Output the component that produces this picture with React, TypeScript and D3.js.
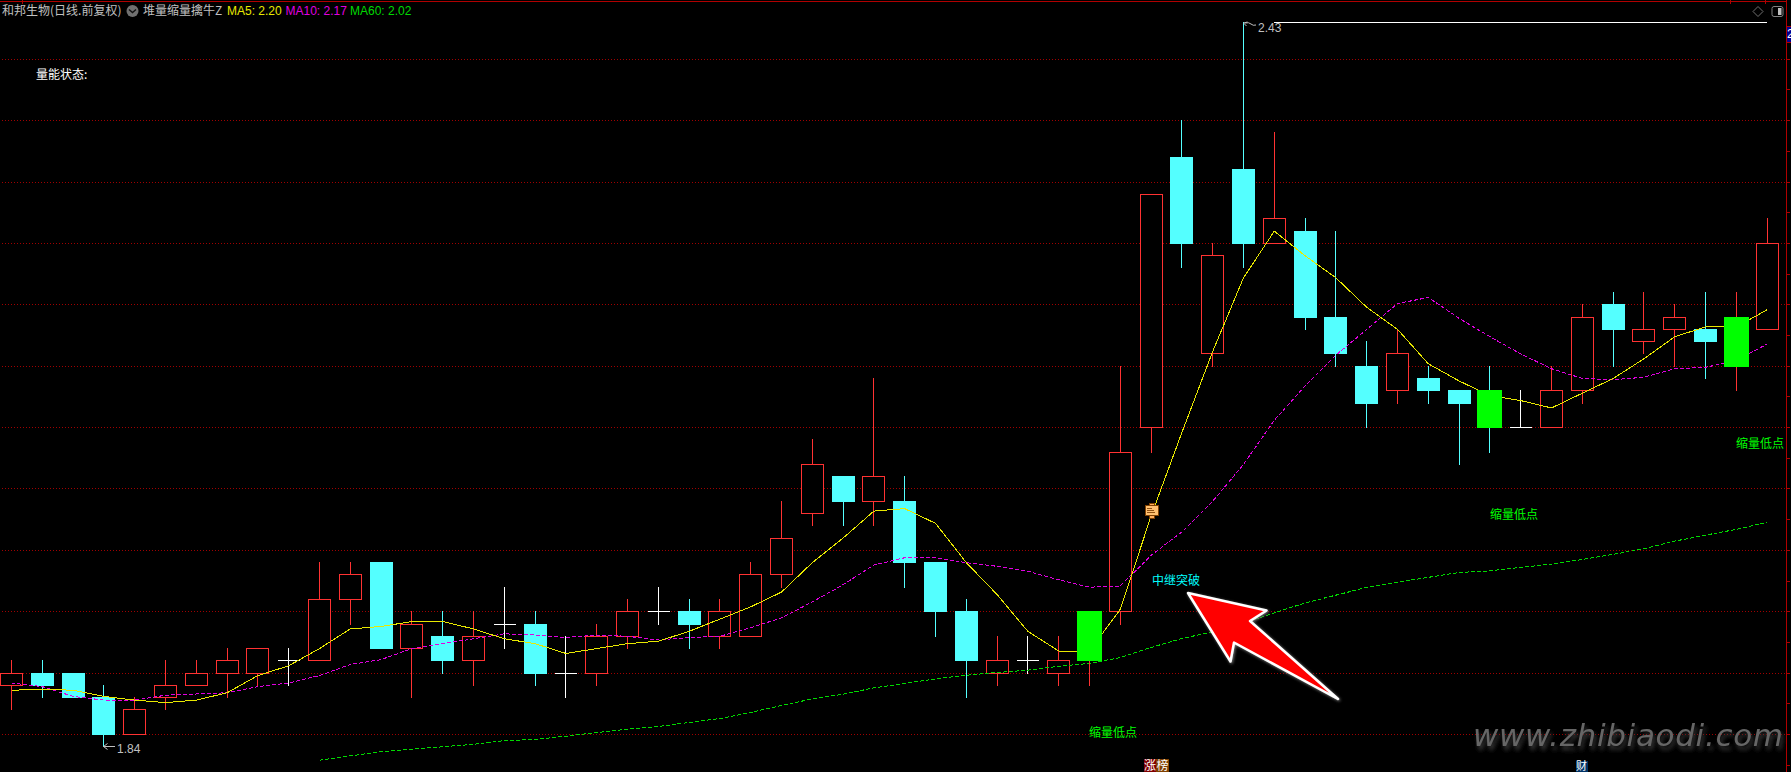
import React from "react";
import * as d3 from "d3";

const WIDTH = 1791;
const HEIGHT = 772;

// candle kinds: r hollow red, c filled cyan, g filled green, w white doji
const kinds = "rcccrrrrrw" + "rrcrcrwcwr" + "rwcrrrrcrc" + "ccrwrgrrcr" + "crcccrccgw" + "rrcrrcgr";
const opens = [1.89,1.90,1.90,1.88,1.85,1.88,1.89,1.90,1.90,1.91,1.91,1.96,1.99,1.92,1.93,1.91,1.94,1.94,1.90,1.90,1.93,1.95,1.95,1.93,1.93,1.98,2.03,2.06,2.04,2.04,1.99,1.95,1.90,1.91,1.90,1.91,1.95,2.10,2.32,2.16,2.31,2.25,2.26,2.19,2.15,2.13,2.14,2.13,2.13,2.10,2.10,2.13,2.20,2.17,2.18,2.18,2.15,2.18];
const closes = [1.90,1.89,1.88,1.85,1.87,1.89,1.90,1.91,1.92,1.91,1.96,1.98,1.92,1.94,1.91,1.93,1.94,1.90,1.90,1.93,1.95,1.95,1.94,1.95,1.98,2.01,2.07,2.04,2.06,1.99,1.95,1.91,1.91,1.91,1.91,1.95,2.08,2.29,2.25,2.24,2.25,2.27,2.19,2.16,2.12,2.16,2.13,2.12,2.10,2.10,2.13,2.19,2.18,2.18,2.19,2.17,2.19,2.25];
const highs = [1.91,1.91,1.90,1.89,1.88,1.91,1.91,1.92,1.92,1.92,1.99,1.99,1.99,1.95,1.95,1.95,1.97,1.95,1.93,1.94,1.96,1.97,1.96,1.96,1.99,2.04,2.09,2.06,2.14,2.06,1.99,1.96,1.93,1.93,1.93,1.95,2.15,2.29,2.35,2.25,2.43,2.34,2.27,2.26,2.17,2.18,2.15,2.13,2.15,2.13,2.15,2.20,2.21,2.21,2.20,2.21,2.21,2.27];
const lows = [1.87,1.88,1.88,1.84,1.85,1.87,1.89,1.88,1.89,1.89,1.91,1.94,1.92,1.88,1.90,1.89,1.92,1.89,1.88,1.89,1.92,1.94,1.92,1.92,1.93,1.97,2.02,2.02,2.02,1.97,1.93,1.88,1.89,1.90,1.89,1.89,1.94,2.08,2.23,2.15,2.23,2.25,2.18,2.15,2.10,2.12,2.12,2.07,2.08,2.10,2.10,2.12,2.15,2.16,2.15,2.14,2.13,2.18];

const ma5 = [1.886,1.887,1.886,1.881,1.878,1.876,1.878,1.884,1.898,1.906,1.92,1.936,1.938,1.942,1.942,1.936,1.928,1.924,1.916,1.92,1.924,1.926,1.934,1.944,1.954,1.966,1.99,2.01,2.032,2.034,2.022,1.99,1.964,1.934,1.918,1.918,1.952,2.028,2.096,2.162,2.222,2.26,2.24,2.222,2.198,2.18,2.152,2.138,2.126,2.122,2.116,2.128,2.14,2.156,2.174,2.182,2.182,2.196];
const ma10 = [1.892,1.889,1.881,1.878,1.878,1.882,1.883,1.884,1.889,1.892,1.898,1.907,1.911,1.92,1.924,1.928,1.932,1.931,1.929,1.931,1.93,1.927,1.929,1.93,1.937,1.945,1.958,1.972,1.988,1.994,1.994,1.99,1.987,1.983,1.976,1.97,1.971,1.996,2.015,2.04,2.07,2.106,2.134,2.159,2.18,2.201,2.206,2.189,2.174,2.16,2.148,2.14,2.139,2.141,2.148,2.149,2.155,2.168];
const ma60Start = 10;
const ma60 = [1.829,1.8326,1.836,1.838,1.84,1.842,1.845,1.846,1.8486,1.8516,1.8543,1.8565,1.8598,1.863,1.868,1.8736,1.879,1.8828,1.888,1.8916,1.8953,1.8983,1.9005,1.9024,1.9056,1.9079,1.9127,1.9209,1.9282,1.9336,1.9405,1.9491,1.9572,1.9635,1.9698,1.9741,1.978,1.982,1.9833,1.9861,1.9888,1.9926,1.9967,2.0013,2.0075,2.0124,2.0171,2.0228];

const gridPrices = d3.range(0, 12).map((i) => 1.85 + i * 0.05);
const axisTickPrices = d3.range(-3, 25).map((i) => 1.85 + i * 0.025);
const topTicks = [22, 1730, 1765];

const COLORS = {
  bg: "#000000",
  grid: "#a00000",
  axis: "#b00000",
  up: "#ff3232",
  down: "#54ffff",
  mark: "#00ff00",
  doji: "#ffffff",
  ma5: "#e8e800",
  ma10: "#e000e0",
  ma60: "#00d800",
  text: "#c0c0c0",
};

const x = d3.scaleLinear().domain([0, 57]).range([11.5, 1767.1]);
const y = d3.scaleLinear().domain([1.85, 2.4]).range([734.5, 59.3]);
const row = (v: number) => Math.floor(y(v));
const col = (i: number) => Math.floor(x(i));

const lineOf = (start: number) =>
  d3
    .line<number>()
    .x((_, i) => x(i + start))
    .y((d) => y(d));

const ARROW = "1188,593 1266.5,610.5 1250,621 1338,699 1234,642.5 1230.5,661.5";

function Candle({ i }: { i: number }) {
  const kind = kinds[i];
  const c = col(i) + 0.5;
  const top = Math.max(opens[i], closes[i]);
  const bot = Math.min(opens[i], closes[i]);
  const color = kind === "r" ? COLORS.up : kind === "c" ? COLORS.down : COLORS.doji;
  if (kind === "g") return null;
  if (kind === "w") {
    return (
      <g stroke={color} strokeWidth={1} shapeRendering="crispEdges">
        <line x1={c} x2={c} y1={row(highs[i])} y2={row(lows[i]) + 1} />
        <line x1={c - 11} x2={c + 11} y1={row(top) + 0.5} y2={row(top) + 0.5} />
      </g>
    );
  }
  const tY = row(top);
  const bY = row(bot);
  return (
    <g shapeRendering="crispEdges">
      {highs[i] > top && <line x1={c} x2={c} y1={row(highs[i])} y2={tY} stroke={color} />}
      {lows[i] < bot && <line x1={c} x2={c} y1={bY} y2={row(lows[i]) + 1} stroke={color} />}
      {kind === "r" ? (
        <rect x={c - 11} y={tY + 0.5} width={22} height={bY - tY} fill={COLORS.bg} stroke={color} strokeWidth={1} />
      ) : (
        <rect x={col(i) - 11} y={tY} width={23} height={bY - tY + 1} fill={color} />
      )}
    </g>
  );
}

function GreenStick({ i }: { i: number }) {
  const c = col(i) + 0.5;
  const top = Math.max(opens[i], closes[i]);
  const bot = Math.min(opens[i], closes[i]);
  const wick = closes[i] < opens[i] ? COLORS.down : COLORS.up;
  return (
    <g shapeRendering="crispEdges">
      {highs[i] > top && <line x1={c} x2={c} y1={row(highs[i])} y2={row(top)} stroke={wick} />}
      {lows[i] < bot && <line x1={c} x2={c} y1={row(bot)} y2={row(lows[i]) + 1} stroke={wick} />}
      <rect x={col(i) - 12} y={row(top)} width={25} height={row(bot) - row(top) + 1} fill={COLORS.mark} />
    </g>
  );
}

const CJK = "'Noto Sans CJK SC', sans-serif";
const LATIN = "'Liberation Sans', Arial, sans-serif";

export default function App() {
  const idx = d3.range(closes.length);
  return (
    <svg
      width={WIDTH}
      height={HEIGHT}
      viewBox={`0 0 ${WIDTH} ${HEIGHT}`}
      style={{ position: "fixed", left: 0, top: 0, display: "block", background: COLORS.bg }}
    >
      <defs>
        <filter id="wm" x="-5%" y="-30%" width="110%" height="170%">
          <feDropShadow dx={2} dy={4} stdDeviation={2.2} floodColor="#3a3a3a" />
        </filter>
        <filter id="glow" x="-10%" y="-10%" width="120%" height="120%">
          <feDropShadow dx={1} dy={1} stdDeviation={1.6} floodColor="#777777" />
        </filter>
      </defs>
      <rect width={WIDTH} height={HEIGHT} fill={COLORS.bg} />

      {/* frame */}
      <g shapeRendering="crispEdges">
        <line x1={0} x2={1786} y1={1.5} y2={1.5} stroke={COLORS.axis} />
        {topTicks.map((t) => (
          <line key={t} x1={t + 0.5} x2={t + 0.5} y1={0} y2={4} stroke={COLORS.axis} />
        ))}
        {gridPrices.map((p) => (
          <line key={p} x1={2} x2={1786} y1={row(p) + 0.5} y2={row(p) + 0.5} stroke={COLORS.grid} strokeDasharray="1 2" />
        ))}
        <line x1={1786.5} x2={1786.5} y1={0} y2={HEIGHT} stroke={COLORS.axis} />
        {axisTickPrices.map((p) => (
          <line key={p} x1={1787} x2={1790} y1={row(p) + 0.5} y2={row(p) + 0.5} stroke={COLORS.axis} />
        ))}
        <rect x={1787} y={26} width={4} height={16} fill="#000090" />
        <line x1={1787} x2={1791} y1={26} y2={26} stroke={COLORS.axis} />
        <line x1={1787} x2={1791} y1={42} y2={42} stroke={COLORS.axis} />
      </g>
      <text x={1787} y={38} fontFamily={LATIN} fontSize={12} fill="#ffffff">2</text>

      {/* highest-price guide */}
      <line x1={col(41)} x2={col(57)} y1={row(2.43) + 0.5} y2={row(2.43) + 0.5} stroke="#ffffff" strokeWidth={1} shapeRendering="crispEdges" />

      {idx.map((i) => (
        <Candle key={i} i={i} />
      ))}

      {/* moving averages */}
      <g fill="none" strokeWidth={1} shapeRendering="crispEdges">
        <path d={lineOf(ma60Start)(ma60) ?? ""} stroke={COLORS.ma60} strokeDasharray="4 2" />
        <path d={lineOf(0)(ma10) ?? ""} stroke={COLORS.ma10} strokeDasharray="4 2" />
        <path d={lineOf(0)(ma5) ?? ""} stroke={COLORS.ma5} />
      </g>

      {idx.filter((i) => kinds[i] === "g").map((i) => (
        <GreenStick key={i} i={i} />
      ))}

      {/* extreme price labels */}
      <g stroke={COLORS.text} fill="none" strokeWidth={1}>
        <path d={`M${col(3) + 0.5} ${row(1.84) + 0.5}H115M${col(3) + 0.5} ${row(1.84) + 0.5}l4 -3M${col(3) + 0.5} ${row(1.84) + 0.5}l4 3`} />
        <path d={`M${col(40) + 0.5} 23l4 -1M${col(40) + 0.5} 23l3 3M${col(40) + 2} 23q4 -1 6 1t5 1`} />
      </g>
      <text x={117} y={753} fontFamily={LATIN} fontSize={12} fill={COLORS.text}>1.84</text>
      <text x={1258} y={32} fontFamily={LATIN} fontSize={12} fill={COLORS.text}>2.43</text>

      {/* header */}
      <text x={2} y={15} fontFamily={CJK} fontSize={12} fill={COLORS.text}>和邦生物(日线.前复权)</text>
      <circle cx={132.5} cy={11} r={6} fill="#707070" />
      <path d="M129 9.5l3.5 3 3.5 -3" stroke="#111111" strokeWidth={1.4} fill="none" />
      <text x={143} y={15} fontFamily={CJK} fontSize={12} fill={COLORS.text}>堆量缩量擒牛Z</text>
      <text x={227} y={15} fontFamily={LATIN} fontSize={12} fill="#e8e800">MA5: 2.20</text>
      <text x={285.5} y={15} fontFamily={LATIN} fontSize={12} fill="#e000e0">MA10: 2.17</text>
      <text x={350} y={15} fontFamily={LATIN} fontSize={12} fill="#00d800">MA60: 2.02</text>
      <text x={36} y={79} fontFamily={CJK} fontSize={12} fill="#ffffff">量能状态:</text>
      <path d="M1758 6.5l5 5 -5 5 -5 -5z" fill="none" stroke="#707070" />
      <rect x={1772} y={6.5} width={11} height={10} rx={2} fill="none" stroke="#808080" />
      <rect x={1778} y={8} width={3.5} height={7} fill="#c0c0c0" />

      {/* chart annotations */}
      <g fontFamily={CJK} fontSize={12}>
        <text x={1089} y={737} fill={COLORS.mark}>缩量低点</text>
        <text x={1490} y={519} fill={COLORS.mark}>缩量低点</text>
        <text x={1736} y={448} fill={COLORS.mark}>缩量低点</text>
        <text x={1152} y={585} fill="#00ffff">中继突破</text>
      </g>

      {/* event tag */}
      <g shapeRendering="crispEdges">
        <rect x={1149.5} y={503.5} width={5} height={3} fill="#ffb060" stroke="#804000" />
        <rect x={1149.5} y={514.5} width={5} height={4} fill="#ffb060" stroke="#804000" />
        <rect x={1145.5} y={505.5} width={13} height={10} fill="#ffc070" stroke="#804000" />
        <path d="M1147 508.5h5M1147 510.5h7M1147 512.5h8" stroke="#905010" />
      </g>

      {/* arrow */}
      <polygon points={ARROW} fill="#ff0000" stroke="#ffffff" strokeWidth={2.5} strokeLinejoin="round" filter="url(#glow)" />

      {/* badges */}
      <g fontFamily={CJK} fontSize={12} fill="#ffffff">
        <rect x={1144} y={759} width={12} height={13} fill="#800000" />
        <rect x={1156} y={759} width={13} height={13} fill="#804000" />
        <text x={1144} y={770}>涨</text>
        <text x={1156.5} y={770}>榜</text>
        <rect x={1576} y={761} width={12} height={11} fill="#003366" />
        <text x={1576} y={770} fontSize={11}>财</text>
      </g>

      {/* watermark */}
      <text
        x={1473}
        y={746}
        fontFamily="'DejaVu Sans', sans-serif"
        fontStyle="italic"
        fontSize={31}
        fill="#666666"
        textLength={310}
        lengthAdjust="spacing"
        filter="url(#wm)"
      >
        www.zhibiaodi.com
      </text>
    </svg>
  );
}
